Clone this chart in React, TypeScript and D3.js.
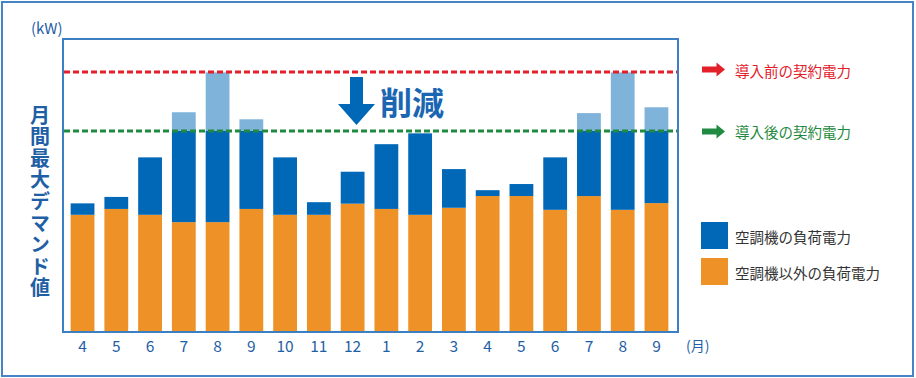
import React from "react";
import * as d3 from "d3";

const months = ["4", "5", "6", "7", "8", "9", "10", "11", "12", "1", "2", "3", "4", "5", "6", "7", "8", "9"];
const otherLoad = [40, 42, 40, 37.5, 37.5, 42, 40, 40, 43.8, 42, 40, 42.4, 46.4, 46.4, 41.7, 46.4, 41.7, 44];
const totalDemand = [43.9, 46.1, 59.6, 75, 88.6, 72.6, 59.6, 44.3, 54.7, 64.1, 67.8, 55.6, 48.4, 50.5, 59.6, 74.7, 88.6, 76.7];
const contractBefore = 88.7;
const contractAfter = 68.6;
const yTitle = "月間最大デマンド値";
const legendItems = [
  { label: "空調機の負荷電力", color: "#0068b7" },
  { label: "空調機以外の負荷電力", color: "#ee9127" },
];

const W = 916;
const H = 378;
const plot = { left: 63, right: 678, top: 39, bottom: 332 };
const FONT = "'Noto Sans CJK JP', 'Noto Sans', sans-serif";
const BLUE = "#0068b7";
const LIGHT = "#7fb3d9";
const ORANGE = "#ee9127";
const FRAME = "#3d7fc3";
const TEXTBLUE = "#1f5fa5";
const RED = "#e3202a";
const GREEN = "#1f8a40";

export default function App() {
  const x = d3
    .scaleBand<number>()
    .domain(d3.range(months.length))
    .range([plot.left - 1, plot.right - 1])
    .paddingInner(0.295)
    .paddingOuter(0.256);
  const y = d3.scaleLinear().domain([0, 100]).range([plot.bottom, plot.top]);
  const bw = x.bandwidth();

  const yRed = y(contractBefore);
  const yGreen = y(contractAfter);

  const arrow = (cy: number, color: string) => {
    const p = d3.path();
    p.moveTo(702, cy - 3);
    p.lineTo(716.5, cy - 3);
    p.lineTo(716.5, cy - 7);
    p.lineTo(725, cy);
    p.lineTo(716.5, cy + 7);
    p.lineTo(716.5, cy + 3);
    p.lineTo(702, cy + 3);
    p.closePath();
    return <path d={p.toString()} fill={color} />;
  };

  const downArrow = () => {
    const p = d3.path();
    const cx = 356.5;
    p.moveTo(cx - 6.5, 77);
    p.lineTo(cx + 6.5, 77);
    p.lineTo(cx + 6.5, 104);
    p.lineTo(cx + 18.5, 104);
    p.lineTo(cx, 125);
    p.lineTo(cx - 18.5, 104);
    p.lineTo(cx - 6.5, 104);
    p.closePath();
    return <path d={p.toString()} fill={BLUE} />;
  };

  return (
    <svg
      width={W}
      height={H}
      style={{ position: "absolute", left: 0, top: 0, background: "#fff" }}
      fontFamily={FONT}
    >
      <rect x={0} y={0} width={W} height={H} fill="#fff" />
      <rect x={2} y={2} width={911} height={374} fill="none" stroke="#4584c6" strokeWidth={2} />

      {/* bars */}
      {months.map((m, i) => {
        const x0 = x(i)!;
        const other = otherLoad[i];
        const total = totalDemand[i];
        const blueTop = Math.min(total, contractAfter);
        return (
          <g key={i}>
            <rect x={x0} y={y(other)} width={bw} height={y(0) - y(other)} fill={ORANGE} />
            <rect x={x0} y={y(blueTop)} width={bw} height={y(other) - y(blueTop)} fill={BLUE} />
            {total > contractAfter && (
              <rect x={x0} y={y(total)} width={bw} height={y(contractAfter) - y(total)} fill={LIGHT} />
            )}
          </g>
        );
      })}

      {/* plot frame */}
      <rect
        x={plot.left}
        y={plot.top}
        width={plot.right - plot.left}
        height={plot.bottom - plot.top}
        fill="none"
        stroke={FRAME}
        strokeWidth={2}
      />

      {/* contract lines */}
      <line x1={plot.left + 1} x2={plot.right - 1} y1={yRed} y2={yRed} stroke={RED} strokeWidth={3} strokeDasharray="6 3" />
      <line x1={plot.left + 1} x2={plot.right - 1} y1={yGreen} y2={yGreen} stroke={GREEN} strokeWidth={3} strokeDasharray="6 3" />

      {/* reduction annotation */}
      {downArrow()}
      <text x={380} y={115} fontSize={32} fontWeight="bold" fill="#1a66b3">
        削減
      </text>

      {/* x labels */}
      {months.map((m, i) => (
        <text
          key={i}
          x={x(i)! + bw / 2}
          y={351.5}
          textAnchor="middle"
          fontSize={15.5}
          fill={TEXTBLUE}
        >
          {m}
        </text>
      ))}
      <text x={686} y={350.5} fontSize={14} fill={TEXTBLUE}>
        (月)
      </text>
      <text x={31} y={34} fontSize={15} fill={TEXTBLUE}>
        (kW)
      </text>

      {/* y title (vertical) */}
      <text
        x={40}
        y={105}
        style={{ writingMode: "vertical-rl" }}
        fontSize={20}
        letterSpacing={1.6}
        fontWeight="bold"
        fill={TEXTBLUE}
      >
        {yTitle}
      </text>

      {/* contract labels */}
      {arrow(yRed - 2.5, RED)}
      <text x={735} y={yRed - 2} dominantBaseline="central" fontSize={14.5} fill={RED}>
        導入前の契約電力
      </text>
      {arrow(yGreen + 0.5, GREEN)}
      <text x={735} y={yGreen + 0.5} dominantBaseline="central" fontSize={14.5} fill={GREEN}>
        導入後の契約電力
      </text>

      {/* legend */}
      {legendItems.map((it, i) => (
        <g key={i} transform={`translate(701, ${222 + i * 36})`}>
          <rect x={0} y={0} width={27} height={27} fill={it.color} />
          <text x={34} y={14.5} dominantBaseline="central" fontSize={14.5} fill="#333">
            {it.label}
          </text>
        </g>
      ))}
    </svg>
  );
}
